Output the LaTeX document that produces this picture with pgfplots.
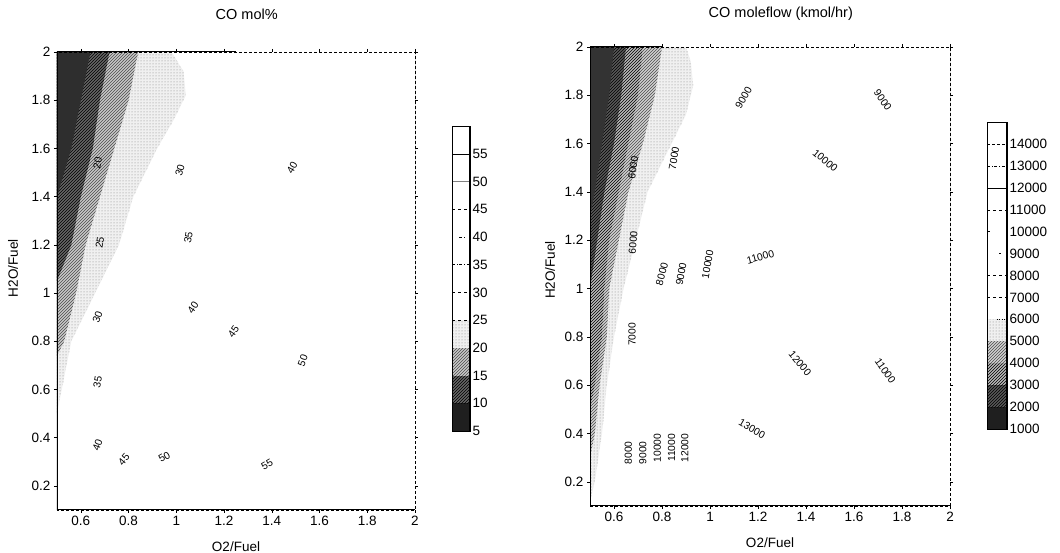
\documentclass[border=0pt]{standalone}
\usepackage{fontspec}
\setmainfont{Liberation Sans}
\usepackage{pgfplots}
\pgfplotsset{compat=1.18}
\usetikzlibrary{patterns}
\tikzset{clab/.style={font=\fontsize{10.3}{11}\selectfont, inner sep=0.3pt}}
\begin{document}
\begin{tikzpicture}[x=1pt,y=1pt]
\useasboundingbox (0,0) rectangle (1060,553);
\pgfplotsset{
  mainax/.style={
    scale only axis, xmin=0.5, xmax=2, ymin=0.1, ymax=2,
    xtick={0.6,0.8,1,1.2,1.4,1.6,1.8,2},
    ytick={0.2,0.4,0.6,0.8,1,1.2,1.4,1.6,1.8,2},
    tick align=outside, major tick length=3pt, tick style={black,thin},
    /pgf/number format/assume math mode=true,
    tick label style={font=\fontsize{13.5}{14}\selectfont},
    label style={font=\fontsize{13.5}{14}\selectfont},
    title style={font=\fontsize{14.5}{15}\selectfont, anchor=center},
    axis line style={line width=0.6pt, densely dashed},
    xlabel={O2/Fuel}, ylabel={H2O/Fuel},
    xlabel style={at={(axis description cs:0.5,0)}, anchor=center, yshift=-37pt},
    axis on top,
  },
  cbax/.style={
    scale only axis, xmin=0, xmax=1, xtick=\empty,
    yticklabel pos=right, major tick length=0pt,
    /pgf/number format/assume math mode=true,
    /pgf/number format/fixed, /pgf/number format/1000 sep={},
    scaled y ticks=false,
    tick label style={font=\fontsize{13.5}{14}\selectfont},
    yticklabel style={xshift=-1pt},
    axis line style={line width=0.6pt},
    axis on top,
  },
}
% ---------------- Left: CO mol% ----------------
\begin{axis}[mainax, at={(57pt,43pt)}, anchor=south west,
  width=358pt, height=458pt, title={CO mol\%},
  title style={at={(axis description cs:0.53,1)}, yshift=32pt},
  ylabel style={at={(axis description cs:-0.123,0.528)}, anchor=center}]
% 20-25 band (light dotted)
\addplot[fill=gray!12, draw=none] coordinates {(0.5,0.5) (0.52,0.6) (0.56,0.8) (0.66,1.0) (0.76,1.2) (0.82,1.4) (0.92,1.6) (0.99,1.72) (1.04,1.82) (1.03,1.92) (0.98,2) (0.5,2)} -- cycle;
\addplot[pattern=dots, pattern color=gray, draw=none] coordinates {(0.5,0.5) (0.52,0.6) (0.56,0.8) (0.66,1.0) (0.76,1.2) (0.82,1.4) (0.92,1.6) (0.99,1.72) (1.04,1.82) (1.03,1.92) (0.98,2) (0.5,2)} -- cycle;
% 15-20 band (hatched)
\addplot[fill=gray!42, draw=none] coordinates {(0.5,0.74) (0.53,0.8) (0.58,1.0) (0.62,1.2) (0.68,1.4) (0.74,1.6) (0.8,1.8) (0.84,2) (0.5,2)} -- cycle;
\addplot[pattern=north east lines, pattern color=gray!60!black, draw=none] coordinates {(0.5,0.74) (0.53,0.8) (0.58,1.0) (0.62,1.2) (0.68,1.4) (0.74,1.6) (0.8,1.8) (0.84,2) (0.5,2)} -- cycle;
% 10-15 band
\addplot[fill=black!60, draw=none] coordinates {(0.5,1.05) (0.56,1.2) (0.6,1.4) (0.65,1.6) (0.68,1.8) (0.72,2) (0.5,2)} -- cycle;
\addplot[pattern=north east lines, pattern color=black, draw=none] coordinates {(0.5,1.05) (0.56,1.2) (0.6,1.4) (0.65,1.6) (0.68,1.8) (0.72,2) (0.5,2)} -- cycle;
% 5-10 band
\addplot[fill=black!82, draw=none] coordinates {(0.5,1.4) (0.53,1.5) (0.56,1.6) (0.6,1.8) (0.64,2) (0.5,2)} -- cycle;
\draw[line width=1.6pt] (rel axis cs:0,1) -- (rel axis cs:0,0) -- (rel axis cs:1,0);
\draw[line width=1pt] (rel axis cs:0,1) -- (rel axis cs:0.5,1);
\draw[line width=1pt] (rel axis cs:1,1) -- (rel axis cs:1,0.3);
% contour labels
\node[clab, rotate=80] at (axis cs:0.67,1.54) {20};
\node[clab, rotate=75] at (axis cs:1.015,1.51) {30};
\node[clab, rotate=60] at (axis cs:1.485,1.52) {40};
\node[clab, rotate=80] at (axis cs:1.05,1.23) {35};
\node[clab, rotate=80] at (axis cs:0.68,1.21) {25};
\node[clab, rotate=55] at (axis cs:1.07,0.94) {40};
\node[clab, rotate=70] at (axis cs:0.67,0.90) {30};
\node[clab, rotate=55] at (axis cs:1.24,0.84) {45};
\node[clab, rotate=70] at (axis cs:1.53,0.72) {50};
\node[clab, rotate=80] at (axis cs:0.67,0.63) {35};
\node[clab, rotate=70] at (axis cs:0.67,0.37) {40};
\node[clab, rotate=50] at (axis cs:0.78,0.31) {45};
\node[clab, rotate=30] at (axis cs:0.95,0.32) {50};
\node[clab, rotate=30] at (axis cs:1.38,0.29) {55};
\end{axis}
% Left colorbar
\begin{axis}[cbax, at={(452pt,122pt)}, anchor=south west, width=18pt, height=305pt,
  ymin=5, ymax=60, ytick={5,10,15,20,25,30,35,40,45,50,55}]
\addplot[fill=black!88, draw=none] coordinates {(0,5) (1,5) (1,10) (0,10)} -- cycle;
\addplot[fill=black!60, draw=none] coordinates {(0,10) (1,10) (1,15) (0,15)} -- cycle;
\addplot[pattern=north east lines, pattern color=black, draw=none] coordinates {(0,10) (1,10) (1,15) (0,15)} -- cycle;
\addplot[fill=gray!42, draw=none] coordinates {(0,15) (1,15) (1,20) (0,20)} -- cycle;
\addplot[pattern=north east lines, pattern color=gray!60!black, draw=none] coordinates {(0,15) (1,15) (1,20) (0,20)} -- cycle;
\addplot[fill=gray!12, draw=none] coordinates {(0,20) (1,20) (1,25) (0,25)} -- cycle;
\addplot[pattern=dots, pattern color=gray, draw=none] coordinates {(0,20) (1,20) (1,25) (0,25)} -- cycle;
\addplot[black, dashed] coordinates {(0,25) (1,25)};
\addplot[black, dashed] coordinates {(0,30) (1,30)};
\addplot[black, dash dot] coordinates {(0,35) (1,35)};
\addplot[black, densely dashed] coordinates {(0.4,40) (0.7,40)};
\addplot[black, dashed] coordinates {(0,45) (1,45)};
\addplot[gray, thin] coordinates {(0,50) (1,50)};
\addplot[black, thin] coordinates {(0,55) (1,55)};
\draw[line width=1.2pt] (rel axis cs:1,0) -- (rel axis cs:1,1);
\end{axis}
% ---------------- Right: CO moleflow ----------------
\begin{axis}[mainax, at={(590pt,47pt)}, anchor=south west,
  width=360pt, height=459pt, title={CO moleflow (kmol/hr)},
  title style={at={(axis description cs:0.53,1)}, yshift=27pt},
  ylabel style={at={(axis description cs:-0.111,0.514)}, anchor=center}]
% 5000-6000 (dotted)
\addplot[fill=gray!12, draw=none] coordinates {(0.5,0.12) (0.52,0.2) (0.55,0.4) (0.57,0.6) (0.6,0.8) (0.64,1.0) (0.69,1.2) (0.74,1.4) (0.84,1.6) (0.9,1.72) (0.93,1.84) (0.92,1.94) (0.9,2) (0.5,2)} -- cycle;
\addplot[pattern=dots, pattern color=gray, draw=none] coordinates {(0.5,0.12) (0.52,0.2) (0.55,0.4) (0.57,0.6) (0.6,0.8) (0.64,1.0) (0.69,1.2) (0.74,1.4) (0.84,1.6) (0.9,1.72) (0.93,1.84) (0.92,1.94) (0.9,2) (0.5,2)} -- cycle;
% 4000-5000 (light hatched)
\addplot[fill=gray!35, draw=none] coordinates {(0.5,0.3) (0.52,0.4) (0.54,0.6) (0.57,0.8) (0.58,1.0) (0.62,1.2) (0.66,1.4) (0.72,1.6) (0.77,1.8) (0.8,2) (0.5,2)} -- cycle;
\addplot[pattern=north east lines, pattern color=gray!60!black, draw=none] coordinates {(0.5,0.3) (0.52,0.4) (0.54,0.6) (0.57,0.8) (0.58,1.0) (0.62,1.2) (0.66,1.4) (0.72,1.6) (0.77,1.8) (0.8,2) (0.5,2)} -- cycle;
% 3000-4000
\addplot[fill=gray!55, draw=none] coordinates {(0.5,0.5) (0.52,0.6) (0.55,0.8) (0.56,1.0) (0.58,1.2) (0.62,1.4) (0.66,1.6) (0.7,1.8) (0.72,2) (0.5,2)} -- cycle;
\addplot[pattern=north east lines, pattern color=black, draw=none] coordinates {(0.5,0.5) (0.52,0.6) (0.55,0.8) (0.56,1.0) (0.58,1.2) (0.62,1.4) (0.66,1.6) (0.7,1.8) (0.72,2) (0.5,2)} -- cycle;
% 2000-3000
\addplot[fill=black!65, draw=none] coordinates {(0.5,1.0) (0.53,1.2) (0.56,1.4) (0.6,1.6) (0.63,1.8) (0.65,2) (0.5,2)} -- cycle;
\addplot[pattern=north east lines, pattern color=black, draw=none] coordinates {(0.5,1.0) (0.53,1.2) (0.56,1.4) (0.6,1.6) (0.63,1.8) (0.65,2) (0.5,2)} -- cycle;
% 1000-2000
\addplot[fill=black!80, draw=none] coordinates {(0.5,1.3) (0.52,1.4) (0.55,1.6) (0.58,1.8) (0.6,2) (0.5,2)} -- cycle;
\draw[line width=1.6pt] (rel axis cs:0,1) -- (rel axis cs:0,0) -- (rel axis cs:1,0);
\draw[line width=1pt] (rel axis cs:0,1) -- (rel axis cs:0.2,1);
\draw[line width=1pt] (rel axis cs:1,1) -- (rel axis cs:1,0.3);
% contour labels
\node[clab, rotate=60] at (axis cs:1.14,1.79) {9000};
\node[clab, rotate=-55] at (axis cs:1.72,1.78) {9000};
\node[clab, rotate=80] at (axis cs:0.85,1.54) {7000};
\node[clab, rotate=82] at (axis cs:0.68,1.50) {6000};
\node[clab, rotate=-40] at (axis cs:1.48,1.53) {10000};
\node[clab, rotate=85] at (axis cs:0.68,1.19) {6000};
\node[clab, rotate=75] at (axis cs:0.80,1.06) {8000};
\node[clab, rotate=80] at (axis cs:0.88,1.06) {9000};
\node[clab, rotate=80] at (axis cs:0.99,1.10) {10000};
\node[clab, rotate=15] at (axis cs:1.21,1.13) {11000};
\node[clab, rotate=90] at (axis cs:0.675,0.81) {7000};
\node[clab, rotate=-50] at (axis cs:1.375,0.69) {12000};
\node[clab, rotate=-55] at (axis cs:1.73,0.66) {11000};
\node[clab, rotate=-30] at (axis cs:1.175,0.42) {13000};
\node[clab, rotate=90] at (axis cs:0.66,0.32) {8000};
\node[clab, rotate=90] at (axis cs:0.72,0.32) {9000};
\node[clab, rotate=90] at (axis cs:0.78,0.34) {10000};
\node[clab, rotate=90] at (axis cs:0.84,0.34) {11000};
\node[clab, rotate=90] at (axis cs:0.895,0.34) {12000};
\end{axis}
% Right colorbar
\begin{axis}[cbax, at={(987pt,124pt)}, anchor=south west, width=20pt, height=307pt,
  ymin=1000, ymax=15000, ytick={1000,2000,3000,4000,5000,6000,7000,8000,9000,10000,11000,12000,13000,14000}]
\addplot[fill=black!88, draw=none] coordinates {(0,1000) (1,1000) (1,2000) (0,2000)} -- cycle;
\addplot[fill=black!65, draw=none] coordinates {(0,2000) (1,2000) (1,3000) (0,3000)} -- cycle;
\addplot[pattern=north east lines, pattern color=black, draw=none] coordinates {(0,2000) (1,2000) (1,3000) (0,3000)} -- cycle;
\addplot[fill=gray!55, draw=none] coordinates {(0,3000) (1,3000) (1,4000) (0,4000)} -- cycle;
\addplot[pattern=north east lines, pattern color=black, draw=none] coordinates {(0,3000) (1,3000) (1,4000) (0,4000)} -- cycle;
\addplot[fill=gray!35, draw=none] coordinates {(0,4000) (1,4000) (1,5000) (0,5000)} -- cycle;
\addplot[pattern=north east lines, pattern color=gray!60!black, draw=none] coordinates {(0,4000) (1,4000) (1,5000) (0,5000)} -- cycle;
\addplot[fill=gray!12, draw=none] coordinates {(0,5000) (1,5000) (1,6000) (0,6000)} -- cycle;
\addplot[pattern=dots, pattern color=gray, draw=none] coordinates {(0,5000) (1,5000) (1,6000) (0,6000)} -- cycle;
\addplot[black, dotted] coordinates {(0.5,6000) (1,6000)};
\addplot[black, dashed] coordinates {(0,7000) (1,7000)};
\addplot[black, dashed] coordinates {(0,8000) (1,8000)};
\addplot[black, densely dotted] coordinates {(0.6,9000) (0.7,9000)};
\addplot[black, dash dot] coordinates {(0,10000) (0.2,10000)};
\addplot[black, dashed] coordinates {(0,11000) (1,11000)};
\addplot[black, thin] coordinates {(0,12000) (1,12000)};
\addplot[black, dash dot] coordinates {(0,13000) (1,13000)};
\addplot[black, densely dashed] coordinates {(0,14000) (1,14000)};
\draw[line width=1.2pt] (rel axis cs:1,0) -- (rel axis cs:1,1);
\end{axis}
\end{tikzpicture}
\end{document}
